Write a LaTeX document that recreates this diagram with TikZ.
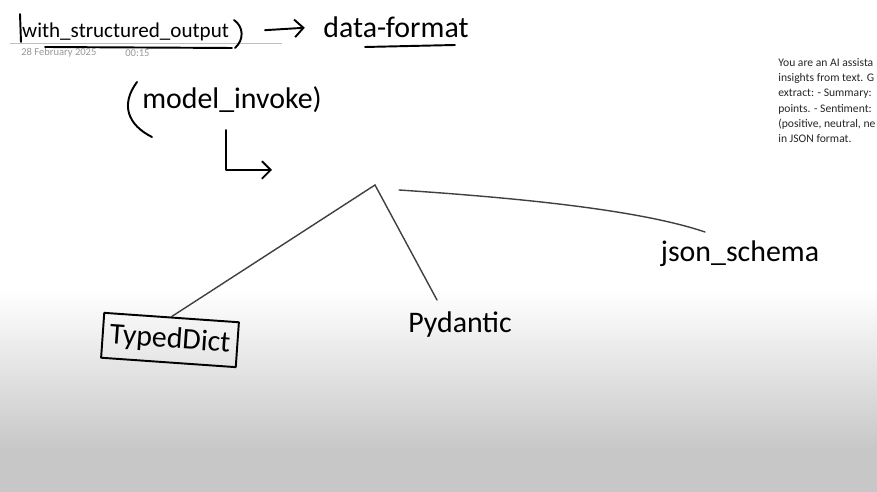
\documentclass[tikz,border=0pt]{standalone}
\usepackage{fontspec}
\setmainfont{Carlito}
\usepackage{tikz}
\usetikzlibrary{arrows.meta}
\usetikzlibrary{positioning}

\tikzset{
  ink/.style={line width=1.1pt, line cap=round, line join=round},
  pen/.style={black!75, line width=0.8pt, line cap=round},
  hand/.style={font=\fontsize{17}{20}\selectfont},
  barb/.style={-{Straight Barb[length=5pt,width=10pt]}},
}

\begin{document}
\begin{tikzpicture}[x=0.02cm,y=-0.02cm]
\useasboundingbox (0,0) rectangle (877,492);

% page background
\fill[white] (0,0) rectangle (877,290);
\shade[top color=white,bottom color=black!22] (0,290) rectangle (877,450);
\fill[black!22] (0,450) rectangle (877,492);

% page title
\node[anchor=west, font=\fontsize{12}{14}\selectfont] (wso) at (16,32) {with\_structured\_output};
\draw[black!25, line width=0.4pt] (10,43) -- (282,43);
\node[anchor=west, text=black!40, inner sep=0, font=\fontsize{6}{7}\selectfont] (date) at (21,53) {28 February 2025};
\node[anchor=west, text=black!40, inner sep=0, font=\fontsize{6}{7}\selectfont] (time) at (125,53) {00:15};
\draw[ink] (20,14) -- (21,42);
\draw[ink] (234,20) .. controls (244,27) and (244,40) .. (235,48);
\draw[ink] (45,47) -- (232,48);

\node[hand] (fmt) at (396,27) {data-format};
\draw[ink] (365,47) -- (455,45);
\draw[ink, barb, shorten <=0.6cm, shorten >=0.25cm] (wso.east) -- (fmt.west);

% model_invoke
\node[hand] (mi) at (232,100) {model\_invoke)};
\draw[ink] (137,82) .. controls (120,105) and (128,125) .. (152,137);
\coordinate (lstart) at (226,130);
\coordinate (lend) at (272,170);
\draw[ink, barb] (lstart) |- (lend);

% the three outputs
\coordinate (fork) at (375,185);
\node[hand, draw, ink, rotate=-4, minimum width=2.7cm, minimum height=0.9cm] (td) at (170,340) {TypedDict};
\node[hand] (pyd) at (460,325) {Pydantic};
\node[hand] (js) at (740,254) {json\_schema};
\coordinate (pydtop) at (437,300);
\coordinate (jsa) at (399,190);
\coordinate (jsb) at (705,232);

\draw[pen] (td.north) -- (fork) -- (pydtop);
\draw[pen] (jsa) .. controls (520,198) and (640,210) .. (jsb);

% prompt text on the right
\begin{scope}
\clip (0,0) rectangle (877,492);
\node[anchor=north west, align=left, inner sep=0, text=black!85, font=\fontsize{6.6}{8.7}\selectfont] (prompt) at (778,58)
  {You are an AI assista\\insights from text. G\\extract: - Summary:\\points. - Sentiment:\\(positive, neutral, ne\\in JSON format.};
\end{scope}

\end{tikzpicture}
\end{document}
